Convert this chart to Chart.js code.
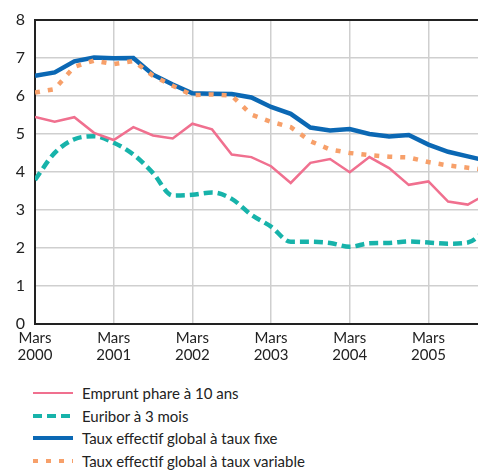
<!DOCTYPE html>
<html>
<head>
<meta charset="utf-8">
<script src="https://cdn.jsdelivr.net/npm/chart.js@4/dist/chart.umd.min.js"></script>
<style>
body { margin: 0; background: #fff; font-family: Lato, "Open Sans", sans-serif; }
#wrap { position: relative; width: 478px; height: 471px; overflow: hidden; }
#graphCanvas { position: absolute; left: 0; top: 0; }
#legende { position: absolute; left: 33px; top: 382px; font-size: 15px; color: #222; }
.item { height: 22.6px; display: flex; align-items: center; white-space: nowrap; }
.item svg { margin-right: 9px; }
</style>
</head>
<body>
<div id="wrap">
  <canvas id="graphCanvas" width="478" height="370"></canvas>
  <div id="legende"></div>
</div>
<script>
// trimestres, de mars 2000 à décembre 2005 (le dernier sort du cadre)
const trimestres = ['Mars 2000', 'Juin 2000', 'Sept. 2000', 'Déc. 2000',
    'Mars 2001', 'Juin 2001', 'Sept. 2001', 'Déc. 2001',
    'Mars 2002', 'Juin 2002', 'Sept. 2002', 'Déc. 2002',
    'Mars 2003', 'Juin 2003', 'Sept. 2003', 'Déc. 2003',
    'Mars 2004', 'Juin 2004', 'Sept. 2004', 'Déc. 2004',
    'Mars 2005', 'Juin 2005', 'Sept. 2005', 'Déc. 2005'];
const annees = ['2000', '2001', '2002', '2003', '2004', '2005'];

const emprunt10ans = [5.44, 5.31, 5.43, 5.02, 4.83, 5.17, 4.95, 4.87, 5.26, 5.11, 4.45, 4.38,
    4.14, 3.70, 4.23, 4.33, 3.98, 4.38, 4.09, 3.65, 3.74, 3.21, 3.13, 3.42];
const euribor3mois = [3.78, 4.49, 4.85, 4.93, 4.76, 4.45, 3.96, 3.37, 3.39, 3.45, 3.28, 2.86,
    2.55, 2.15, 2.15, 2.12, 2.02, 2.11, 2.12, 2.16, 2.13, 2.10, 2.13, 2.50];
const tegFixe = [6.52, 6.61, 6.90, 7.00, 6.98, 6.99, 6.55, 6.29, 6.06, 6.05, 6.04, 5.95,
    5.70, 5.52, 5.16, 5.08, 5.12, 4.99, 4.92, 4.96, 4.71, 4.52, 4.40, 4.28];
const tegVariable = [6.08, 6.17, 6.76, 6.92, 6.83, 6.91, 6.52, 6.26, 6.01, 6.03, 6.00, 5.50,
    5.31, 5.17, 4.80, 4.58, 4.49, 4.43, 4.39, 4.37, 4.25, 4.16, 4.10, 4.04];

const series = [
    { label: 'Emprunt phare à 10 ans', data: emprunt10ans, color: '#f0708f', width: 2.5, dash: [], order: 2, tension: 0 },
    { label: 'Euribor à 3 mois', data: euribor3mois, color: '#17b3aa', width: 4.5, dash: [9, 5], order: 3, tension: 0.4 },
    { label: 'Taux effectif global à taux fixe', data: tegFixe, color: '#0b68b4', width: 4.5, dash: [], order: 1, tension: 0 },
    { label: 'Taux effectif global à taux variable', data: tegVariable, color: '#f7a06a', width: 4.5, dash: [5, 8], order: 0, tension: 0 }
];

function toPoints(values) {
    return values.map((v, i) => ({ x: i, y: v }));
}

let datasets = series.map(s => ({
    label: s.label,
    data: toPoints(s.data),
    borderColor: s.color,
    backgroundColor: s.color,
    borderWidth: s.width,
    borderDash: s.dash,
    borderCapStyle: 'butt',
    pointRadius: 0,
    tension: s.tension,
    cubicInterpolationMode: s.tension ? 'monotone' : 'default',
    order: s.order,
    fill: false
}));

let gridGris = '#cfcfcf';
let noir = '#222';

let ctx = document.getElementById('graphCanvas').getContext('2d');
let lineChart = new Chart(ctx, {
    type: 'line',
    data: { datasets: datasets },
    options: {
        responsive: false,
        animation: false,
        layout: { padding: { top: 19, left: 0, right: 0, bottom: 0 } },
        plugins: {
            legend: { display: false },
            tooltip: { enabled: false }
        },
        scales: {
            x: {
                type: 'linear',
                min: 0,
                max: 22.52,
                grid: { color: gridGris, lineWidth: 1.5, drawTicks: false },
                border: { color: noir, width: 2 },
                ticks: {
                    stepSize: 4,
                    includeBounds: false,
                    maxRotation: 0,
                    autoSkip: false,
                    padding: 6,
                    color: noir,
                    font: { family: 'Lato', size: 15, lineHeight: 1.15 },
                    callback: function(v) {
                        return v % 4 === 0 ? ['Mars', annees[v / 4]] : '';
                    }
                }
            },
            y: {
                min: 0,
                max: 8,
                grid: {
                    color: c => c.tick && c.tick.value === 8 ? noir : gridGris,
                    lineWidth: c => c.tick && c.tick.value === 8 ? 2 : 1.5,
                    drawTicks: false
                },
                border: { color: noir, width: 2 },
                ticks: {
                    stepSize: 1,
                    padding: 10,
                    color: noir,
                    font: { family: 'Lato', size: 16 }
                },
                afterFit: function(scale) { scale.width = 35; }
            }
        }
    }
});

// légende à part, une ligne par série
let legende = document.getElementById('legende');
series.forEach(s => {
    let row = document.createElement('div');
    row.className = 'item';
    row.innerHTML = '<svg width="40" height="8"><line x1="0" y1="4" x2="40" y2="4" stroke="' + s.color +
        '" stroke-width="' + (s.width - 0.5) + '" stroke-dasharray="' + (s.dash.length ? s.dash.join(',') : 'none') +
        '"/></svg><span>' + s.label + '</span>';
    legende.appendChild(row);
});
</script>
</body>
</html>
